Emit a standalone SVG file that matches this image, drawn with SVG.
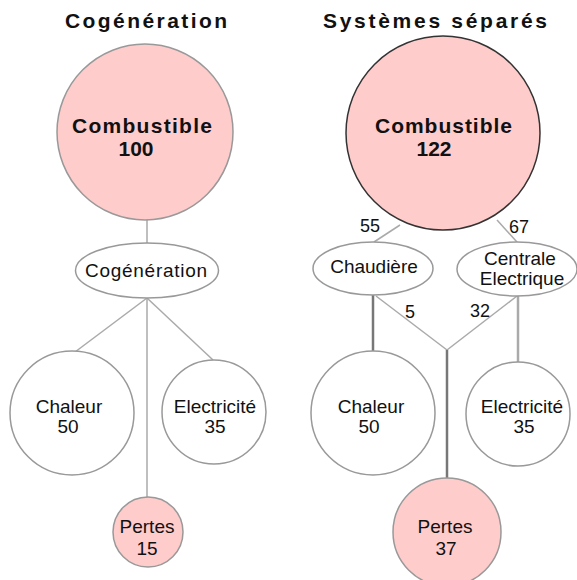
<svg xmlns="http://www.w3.org/2000/svg" width="577" height="580" viewBox="0 0 577 580">
<style>
.t{font-family:"Liberation Sans",Arial,sans-serif;font-size:21px;font-weight:bold;fill:#111}
.n{font-family:"Liberation Sans",Arial,sans-serif;font-size:19px;fill:#111}
.c{text-anchor:middle}
.pk{fill:#ffcccc;stroke:#999;stroke-width:1.5}
.wh{fill:#fff;stroke:#999;stroke-width:1.5}
.ln{stroke:#aaa;stroke-width:1.5;fill:none}
.dk{stroke:#777;stroke-width:2.5;fill:none}
</style>
<rect width="577" height="580" fill="#fff"/>
<text class="t" x="65" y="28" textLength="162" lengthAdjust="spacing">Cogénération</text>
<text class="t" x="323" y="28" textLength="224" lengthAdjust="spacing">Systèmes séparés</text>
<g id="connectors">
<line class="ln" x1="147" y1="220" x2="147" y2="243"/>
<line class="ln" x1="147" y1="298" x2="75" y2="352"/>
<line class="ln" x1="147" y1="298" x2="213" y2="360"/>
<line class="ln" x1="147" y1="298" x2="147" y2="497"/>
<line class="ln" x1="400" y1="225" x2="374" y2="242"/>
<line class="ln" x1="497" y1="220" x2="517" y2="242"/>
<line class="dk" x1="373" y1="295" x2="373" y2="352"/>
<line class="ln" x1="376" y1="296" x2="447" y2="350"/>
<line class="ln" x1="517" y1="296" x2="447" y2="350"/>
<line class="dk" x1="447" y1="350" x2="447" y2="479"/>
<line class="ln" x1="518" y1="296" x2="518" y2="362" style="stroke-width:2.5"/>
<text class="n" x="370" y="232" style="font-size:18px" text-anchor="middle">55</text>
<text class="n" x="519" y="233" style="font-size:18px" text-anchor="middle">67</text>
<text class="n" x="410" y="318" style="font-size:18px" text-anchor="middle">5</text>
<text class="n" x="480" y="317" style="font-size:18px" text-anchor="middle">32</text>
</g>
<g id="combustible-cogen">
<circle class="pk" cx="145" cy="132" r="88"/>
<text class="t" x="72" y="133" textLength="140" lengthAdjust="spacing">Combustible</text>
<text class="t c" x="136" y="156">100</text>
</g>
<g id="cogeneration">
<ellipse class="wh" cx="147" cy="270.5" rx="71.5" ry="27.5"/>
<text class="n" x="85" y="277" textLength="122" lengthAdjust="spacing">Cogénération</text>
</g>
<g id="chaleur-cogen">
<circle class="wh" cx="72" cy="413" r="62"/>
<text class="n c" x="69" y="413">Chaleur</text>
<text class="n c" x="68" y="433">50</text>
</g>
<g id="electricite-cogen">
<circle class="wh" cx="214" cy="412" r="52"/>
<text class="n c" x="215" y="413">Electricité</text>
<text class="n c" x="215" y="433">35</text>
</g>
<g id="pertes-cogen">
<circle class="pk" cx="148" cy="532" r="35"/>
<text class="n c" x="147" y="533">Pertes</text>
<text class="n c" x="147" y="555">15</text>
</g>
<g id="combustible-sep">
<circle class="pk" cx="443" cy="133" r="97" style="stroke:#333"/>
<text class="t" x="375" y="133" textLength="137" lengthAdjust="spacing">Combustible</text>
<text class="t c" x="434" y="156">122</text>
</g>
<g id="chaudiere">
<ellipse class="wh" cx="373" cy="268.5" rx="60" ry="26.5"/>
<text class="n c" x="374" y="273">Chaudière</text>
</g>
<g id="centrale">
<ellipse class="wh" cx="517" cy="269" rx="60" ry="27"/>
<text class="n c" x="520" y="265">Centrale</text>
<text class="n c" x="522" y="285">Electrique</text>
</g>
<g id="chaleur-sep">
<circle class="wh" cx="373" cy="413" r="62"/>
<text class="n c" x="371" y="413">Chaleur</text>
<text class="n c" x="369" y="433">50</text>
</g>
<g id="electricite-sep">
<circle class="wh" cx="518" cy="414" r="52"/>
<text class="n c" x="522" y="413">Electricité</text>
<text class="n c" x="524" y="433">35</text>
</g>
<g id="pertes-sep">
<circle class="pk" cx="447" cy="532" r="54"/>
<text class="n c" x="445" y="533">Pertes</text>
<text class="n c" x="446" y="555">37</text>
</g>
</svg>
